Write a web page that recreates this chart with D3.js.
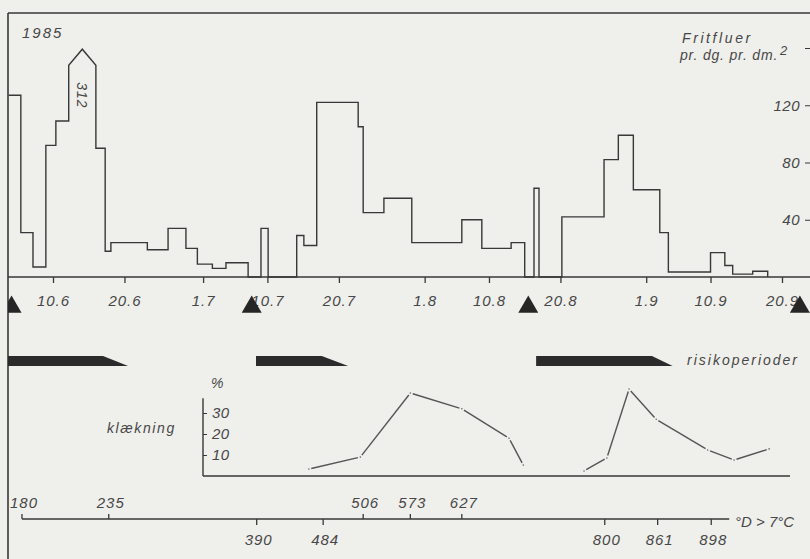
<!DOCTYPE html>
<html><head><meta charset="utf-8">
<script src="https://cdn.jsdelivr.net/npm/d3@7"></script>
<style>
html,body{margin:0;padding:0;background:#efefec;}
svg{display:block;}
text{font-family:"Liberation Sans",Arial,sans-serif;font-style:italic;fill:#474747;}
</style></head><body>
<svg id="c" width="810" height="559"></svg>
<script>
// ---------- data ----------
const yearLabel = "1985";
// day numbers: days after 31 May 1985 (10 = 10 June)
const stepEdges = [3.8,5.5,7.2,9.0,10.4,12.2,16.0,17.3,18.1,23.2,26.1,28.6,30.2,32.3,34.2,37.3,39.1,40.1,44.1,45.1,46.9,52.7,53.4,56.3,60.2,67.2,70.0,74.1,76.0,77.3,78.0,81.2,87.1,89.1,91.2,94.9,96.1,102.0,104.0,105.1,107.9,110.0];
const stepValues = [127,31,7,92,109,312,90,18,24,19,34,20,9,6,10,0,34,0,29,22,122,105,45,55,24,40,20,24,0,62,0,42,82,99,61,31,3.5,17,8,2,4];
const dateTickDays = [10,20,31,40,50,62,71,81,93,102,112];
const dateTickLabels = ["10.6","20.6","1.7","10.7","20.7","1.8","10.8","20.8","1.9","10.9","20.9"];
const flyTicks = [40,80,120,160];
const triangleDays = [4.2,37.8,76.5,114.5];
const riskStart = [2,38.4,77.6];
const riskFullEnd = [17.0,47.6,93.8];
const riskTaperEnd = [20.5,51.3,96.7];
const hatchDays1 = [45.8,53.0,60.0,67.2,73.8,75.8];
const hatchPct1 = [3.3,9,39.5,32,18,5.2];
const hatchDays2 = [84.3,87.5,90.6,94.4,101.6,105.3,110.2];
const hatchPct2 = [2.4,8.6,41.4,27,12.4,7.6,12.9];
const hatchTicks = [10,20,30];
const ddDays = [5.66,17.8,38.5,47.8,53.4,60.0,67.2,87.2,94.6,102.1];
const ddLabels = ["180","235","390","484","506","573","627","800","861","898"];
const ddLabelAbove = [true,true,false,false,true,true,true,false,false,false];

// ---------- drawing ----------
const svg = d3.select("#c");
const ink = "#383838";
const x = d3.scaleLinear().domain([10,112]).range([53,782]);
const y = d3.scaleLinear().domain([0,160]).range([277,48]);
const yh = d3.scaleLinear().domain([0,30]).range([476,413]);

svg.append("defs").append("clipPath").attr("id","clip")
  .append("rect").attr("x",8).attr("y",0).attr("width",802).attr("height",559);

// frame
svg.append("line").attr("x1",8).attr("x2",8).attr("y1",13).attr("y2",559).attr("stroke",ink).attr("stroke-width",1.6);
svg.append("line").attr("x1",8).attr("x2",810).attr("y1",13).attr("y2",13).attr("stroke",ink).attr("stroke-width",1.6);

// step histogram
const cap = 148;
const p = d3.path();
for (let i = 0; i < stepValues.length; i++) {
  const x0 = x(stepEdges[i]), x1 = x(stepEdges[i+1]), v = stepValues[i];
  if (i === 0) p.moveTo(x0, y(Math.min(v,cap))); else p.lineTo(x0, y(Math.min(v,cap)));
  if (v > cap) {
    p.lineTo((x0+x1)/2, y(cap)-16);
    p.lineTo(x1, y(cap));
  } else p.lineTo(x1, y(v));
}
p.lineTo(x(stepEdges[stepEdges.length-1]), y(0));
svg.append("path").attr("d",p.toString()).attr("fill","none").attr("stroke",ink).attr("stroke-width",1.4).attr("clip-path","url(#clip)");

// peak label
const pk = stepValues.findIndex(v => v > cap);
const pkx = (x(stepEdges[pk]) + x(stepEdges[pk+1]))/2;
svg.append("text").attr("transform",`translate(${pkx-5},${y(cap)+17}) rotate(90)`)
  .attr("font-size",14).attr("letter-spacing",1).text(String(stepValues[pk]));

// baseline
svg.append("line").attr("x1",8).attr("x2",810).attr("y1",y(0)).attr("y2",y(0)).attr("stroke",ink).attr("stroke-width",1.6);

// date axis
const gx = svg.append("g").attr("transform",`translate(0,${y(0)})`)
  .call(d3.axisBottom(x).tickValues(dateTickDays).tickFormat((d,i)=>dateTickLabels[i]).tickSize(6).tickPadding(12));
gx.select(".domain").remove();
gx.selectAll("line").attr("stroke",ink).attr("stroke-width",1.3);
gx.selectAll("text").attr("font-size",15).attr("letter-spacing",1).attr("font-family",null).style("fill","#474747");

// right axis
const gy = svg.append("g").attr("transform","translate(810,0)")
  .call(d3.axisLeft(y).tickValues(flyTicks).tickFormat(d => d === 160 ? "" : d).tickSize(5).tickPadding(5));
gy.select(".domain").remove();
gy.selectAll("line").attr("stroke",ink);
gy.selectAll("text").attr("font-size",15).attr("letter-spacing",0.5).attr("font-family",null).style("fill","#474747");

// titles
svg.append("text").attr("x",22).attr("y",38).attr("font-size",15).attr("letter-spacing",2).text(yearLabel);
svg.append("text").attr("x",682).attr("y",43).attr("font-size",14).attr("letter-spacing",2.6).text("Fritfluer");
svg.append("text").attr("x",680).attr("y",60).attr("font-size",14).attr("letter-spacing",0.8).text("pr. dg. pr. dm.");
svg.append("text").attr("x",780).attr("y",55).attr("font-size",13).text("2");

// triangles
const tri = d3.symbol(d3.symbolTriangle, 173);
svg.append("g").attr("clip-path","url(#clip)").selectAll("path").data(triangleDays).join("path")
  .attr("d",tri).attr("transform",d=>`translate(${x(d)},307)`).attr("fill","#262626");

// risk periods
svg.append("g").selectAll("path").data(riskStart).join("path")
  .attr("d",(d,i)=>{
    const a = Math.max(8, x(d)), b = x(riskFullEnd[i]), c = x(riskTaperEnd[i]);
    return `M${a},356L${b},356L${c},366L${a},366Z`;
  }).attr("fill","#2b2b2b");
svg.append("text").attr("x",687).attr("y",365).attr("font-size",14).attr("letter-spacing",2).text("risikoperioder");

// klaekning chart
svg.append("line").attr("x1",203).attr("x2",203).attr("y1",yh(0)).attr("y2",yh(37)).attr("stroke",ink).attr("stroke-width",1.4);
svg.append("line").attr("x1",203).attr("x2",790).attr("y1",yh(0)).attr("y2",yh(0)).attr("stroke",ink).attr("stroke-width",1.4);
const gh = svg.append("g").attr("transform","translate(203,0)")
  .call(d3.axisRight(yh).tickValues(hatchTicks).tickSize(4).tickPadding(5));
gh.select(".domain").remove();
gh.selectAll("line").attr("stroke",ink);
gh.selectAll("text").attr("font-size",15).attr("letter-spacing",0.5).attr("font-family",null).style("fill","#474747");
svg.append("text").attr("x",211).attr("y",388).attr("font-size",14).text("%");
svg.append("text").attr("x",107).attr("y",433).attr("font-size",14).attr("letter-spacing",1.6).text("klækning");

function drawSeries(days, pct){
  const pts = days.map((d,i)=>[x(d), yh(pct[i])]);
  const g = svg.append("g");
  for (let i = 0; i < pts.length-1; i++){
    const [ax,ay] = pts[i], [bx,by] = pts[i+1];
    const L = Math.hypot(bx-ax, by-ay), ux=(bx-ax)/L, uy=(by-ay)/L, s=2.5;
    g.append("line").attr("x1",ax+ux*s).attr("y1",ay+uy*s).attr("x2",bx-ux*s).attr("y2",by-uy*s)
      .attr("stroke","#555").attr("stroke-width",1.4);
  }
  g.selectAll("circle").data(pts).join("circle").attr("cx",d=>d[0]).attr("cy",d=>d[1]).attr("r",0.8).attr("fill","#666");
}
drawSeries(hatchDays1, hatchPct1);
drawSeries(hatchDays2, hatchPct2);

// degree-day axis
const ddY = 519;
svg.append("line").attr("x1",x(ddDays[0])).attr("x2",x(ddDays[ddDays.length-1])+18).attr("y1",ddY).attr("y2",ddY).attr("stroke",ink).attr("stroke-width",1.4);
const gd = svg.append("g").selectAll("g").data(ddDays).join("g").attr("transform",d=>`translate(${x(d)},${ddY})`);
gd.append("line").attr("y1",0).attr("y2",(d,i)=>ddLabelAbove[i]?-5:6).attr("stroke",ink).attr("stroke-width",1.3);
gd.append("text").attr("x",2).attr("y",(d,i)=>ddLabelAbove[i]?-11:26).attr("text-anchor","middle")
  .attr("font-size",15).attr("letter-spacing",1).text((d,i)=>ddLabels[i]);
svg.append("text").attr("x",735).attr("y",527).attr("font-size",15).text("°D > 7°C");
</script>
</body></html>
